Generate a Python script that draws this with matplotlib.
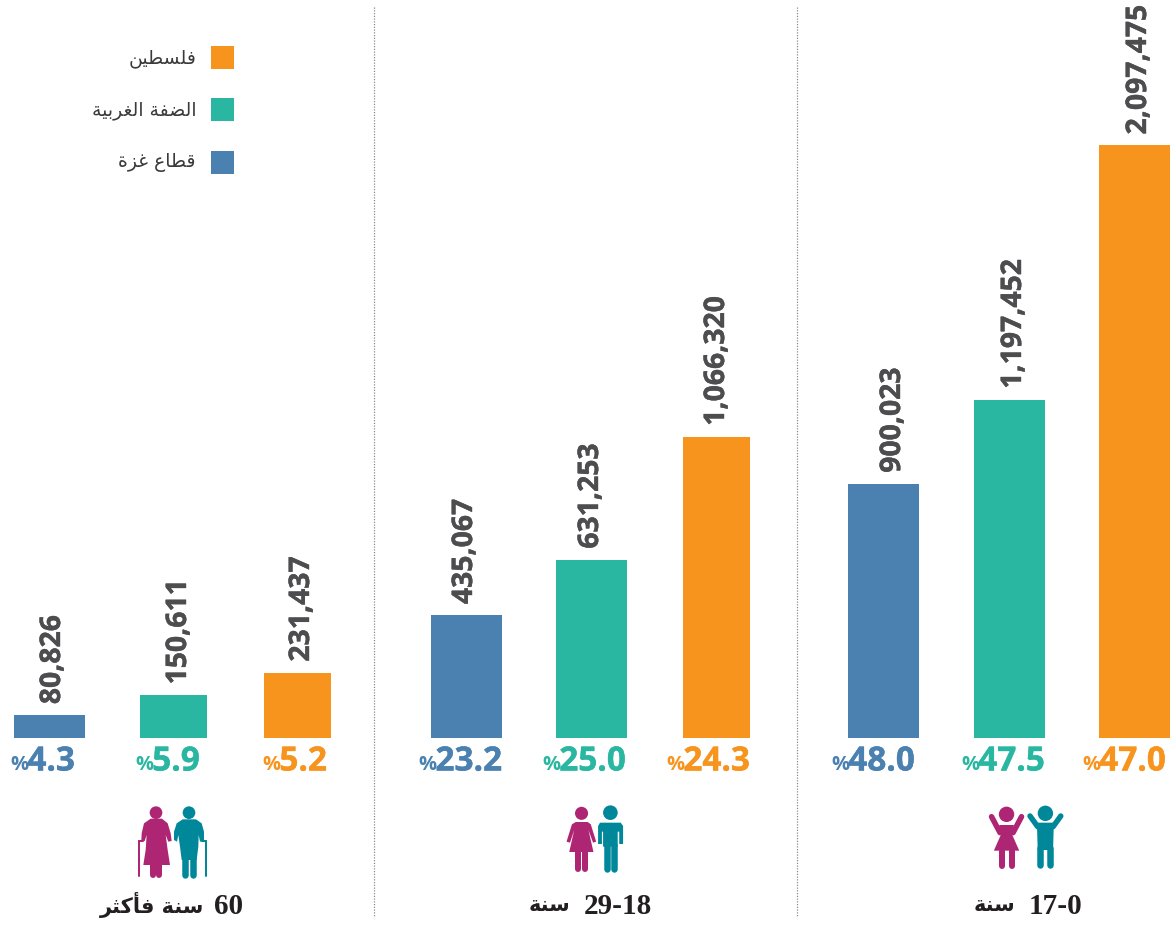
import unicodedata
import matplotlib
matplotlib.use('Agg')
import matplotlib.pyplot as plt
import matplotlib.patheffects as pe
from matplotlib.patches import Circle, Polygon, Rectangle

# Dados
regioes = ['قطاع غزة', 'الضفة الغربية', 'فلسطين']
faixa_60 = [80826, 150611, 231437]
faixa_18 = [435067, 631253, 1066320]
faixa_0 = [900023, 1197452, 2097475]
pct_60 = ['4.3', '5.9', '5.2']
pct_18 = ['23.2', '25.0', '24.3']
pct_0 = ['48.0', '47.5', '47.0']

AZUL, VERDE, LARANJA = '#4A81B0', '#2AB7A2', '#F7941D'
cores = [AZUL, VERDE, LARANJA]
ROSA, PETROLEO = '#AE2573', '#00889A'

# Posicoes das barras em pixels (esquerda, direita)
barras_60 = [(14, 85), (140, 207), (264, 331)]
barras_18 = [(431, 502), (556, 627), (683, 750)]
barras_0 = [(848, 919), (974, 1045), (1099, 1170)]
fim_pct_60 = [75, 200, 327]
fim_pct_18 = [502, 626, 750]
fim_pct_0 = [915, 1045, 1166]
desvio_60 = [3, 5, 4]
desvio_18 = [-2, -1, 0]
desvio_0 = [9, 4, 4]

# Tabela de formas contextuais do arabe
formas = {}
for code in range(0xFE80, 0xFEFD):
    nome = unicodedata.name(chr(code), '')
    base = unicodedata.normalize('NFKC', chr(code))
    if len(base) == 1 and 'FORM' in nome:
        formas.setdefault(base, {})[nome.split()[-2]] = chr(code)


def ar(palavras):
    # matplotlib nao faz shaping: devolve o texto ja em ordem visual
    saida = []
    for palavra in palavras.split(' '):
        letras = []
        for i, c in enumerate(palavra):
            f = formas[c]
            antes = i > 0 and 'INITIAL' in formas[palavra[i - 1]]
            depois = i < len(palavra) - 1 and 'INITIAL' in f
            if antes and depois:
                letras.append(f['MEDIAL'])
            elif antes:
                letras.append(f['FINAL'])
            elif depois:
                letras.append(f['INITIAL'])
            else:
                letras.append(f['ISOLATED'])
        saida.append(''.join(reversed(letras)))
    return ' '.join(reversed(saida))


fig = plt.figure(figsize=(11.71, 9.26), dpi=100, facecolor='white')

# Eixo das barras: base em y=738 px
ax = fig.add_axes([0, 0, 1, 1])
ax.set_xlim(0, 1171)
ax.set_ylim(-188 / 2.825e-4, 738 / 2.825e-4)
ax.axis('off')

# Eixo em pixels para legenda, icones e textos
px = fig.add_axes([0, 0, 1, 1], facecolor='none')
px.set_xlim(0, 1171)
px.set_ylim(926, 0)
px.axis('off')

renderer = fig.canvas.get_renderer()
grupos = [(faixa_60, pct_60, barras_60, fim_pct_60, desvio_60),
          (faixa_18, pct_18, barras_18, fim_pct_18, desvio_18),
          (faixa_0, pct_0, barras_0, fim_pct_0, desvio_0)]

for valores, pcts, barras, fins, desvios in grupos:
    for i in range(3):
        esq, dir_ = barras[i]
        ax.bar((esq + dir_) / 2, valores[i], width=dir_ - esq, color=cores[i])
        r = ax.annotate(f'{valores[i]:,}', xy=((esq + dir_) / 2, valores[i]),
                        xytext=(desvios[i], 11), textcoords='offset pixels',
                        rotation=90, ha='center', va='bottom', color='#4D4D4F',
                        fontsize=20.4, fontweight='bold', family='Open Sans')
        r.set_path_effects([pe.withStroke(linewidth=0.3, foreground='#4D4D4F')])
        t = px.text(fins[i], 762, pcts[i], color=cores[i], fontsize=24,
                    fontweight='bold', family='Open Sans', ha='right', va='center')
        t.set_path_effects([pe.withStroke(linewidth=0.3, foreground=cores[i])])
        caixa = t.get_window_extent(renderer)
        px.text(caixa.x0 + 1, 765, '%', color=cores[i], fontsize=14.5,
                fontweight='bold', family='Open Sans', ha='right', va='center')

# Separadores
for x in [374, 797]:
    px.plot([x, x], [7, 916], color='#8C8C8C', lw=0.9, ls=(0, (1, 1.2)))

# Legenda
for nome, cor, y in zip(regioes[::-1], cores[::-1], [58, 110, 163]):
    px.add_patch(Rectangle((211, y - 12), 23, 23, color=cor, lw=0))
    px.text(196, y, ar(nome), ha='right', va='center', fontsize=13.5,
            color='#3A3A3A', family='DejaVu Sans')

# Rotulos das faixas etarias: numero em serifa e palavra ao lado
rotulos = [(243, '60', ar('سنة فأكثر'), 204),
           (652, '29-18', ar('سنة'), 570),
           (1082, '17-0', ar('سنة'), 1015)]
for x, numero, palavra, x_palavra in rotulos:
    px.text(x, 906, numero, ha='right', va='center', fontsize=21, fontweight='bold',
            color='#231F20', family='Liberation Serif')
    px.text(x_palavra, 905, palavra, ha='right', va='center', fontsize=15, fontweight='bold',
            color='#231F20', family='DejaVu Sans')


# Icones: coordenadas medidas nos recortes ampliados (origem x, origem y, escala x, escala y)
def ponto(p, origem):
    return (origem[0] + p[0] / origem[2], origem[1] + p[1] / origem[3])


def cabeca(c, r, cor, origem):
    px.add_patch(Circle(ponto(c, origem), r / origem[2], color=cor, lw=0))


def corpo(pts, cor, origem):
    px.add_patch(Polygon([ponto(p, origem) for p in pts], closed=True, color=cor, lw=0))


def traco(a, b, larg, cor, origem):
    xa, ya = ponto(a, origem)
    xb, yb = ponto(b, origem)
    px.plot([xa, xb], [ya, yb], color=cor, lw=larg * 0.72, solid_capstyle='round')


o = (0, 740, 3, 3)
cabeca((468, 218), 19, ROSA, o)
corpo([(452, 236), (486, 236), (503, 250), (512, 280), (515, 303), (505, 305), (497, 285),
       (503, 330), (510, 375), (430, 375), (437, 330), (440, 285), (434, 303), (424, 303),
       (425, 280), (432, 250)], ROSA, o)
for x in [458, 478]:
    traco((x, 375), (x, 405), 6, ROSA, o)
traco((418, 303), (418, 407), 2, ROSA, o)
traco((418, 303), (430, 303), 2, ROSA, o)
cabeca((567, 218), 19, PETROLEO, o)
corpo([(548, 238), (588, 238), (605, 250), (612, 275), (612, 303), (600, 305), (596, 285),
       (595, 320), (590, 360), (545, 360), (540, 320), (535, 285), (531, 305), (522, 300),
       (522, 275), (530, 250)], PETROLEO, o)
for x in [556, 578]:
    traco((x, 350), (x, 405), 6.5, PETROLEO, o)
traco((617, 303), (617, 407), 2, PETROLEO, o)
traco((605, 303), (617, 303), 2, PETROLEO, o)

# o segundo recorte saiu reduzido so na largura
o = (500, 790, 2.6, 3)
cabeca((212, 70), 17, ROSA, o)
corpo([(197, 96), (228, 96), (236, 103), (250, 155), (242, 158), (230, 120), (243, 186),
       (180, 186), (193, 120), (182, 158), (173, 155), (187, 103)], ROSA, o)
for x in [203, 221]:
    traco((x, 186), (x, 236), 6, ROSA, o)
cabeca((287, 68), 19, PETROLEO, o)
corpo([(260, 98), (314, 98), (320, 108), (320, 162), (310, 162), (310, 125), (306, 125),
       (306, 170), (268, 170), (268, 125), (265, 125), (265, 162), (255, 162), (255, 108)],
      PETROLEO, o)
for x in [277, 297]:
    traco((x, 165), (x, 236), 6.5, PETROLEO, o)

cabeca((1317, 73), 20, ROSA, o)
traco((1278, 80), (1300, 128), 5.5, ROSA, o)
traco((1356, 80), (1334, 128), 5.5, ROSA, o)
corpo([(1298, 105), (1336, 105), (1332, 135), (1350, 182), (1284, 182), (1302, 135)], ROSA, o)
for x in [1304, 1330]:
    traco((x, 182), (x, 227), 6, ROSA, o)
cabeca((1418, 70), 20, PETROLEO, o)
traco((1378, 78), (1398, 110), 5.5, PETROLEO, o)
traco((1458, 78), (1438, 110), 5.5, PETROLEO, o)
corpo([(1396, 98), (1440, 98), (1438, 180), (1398, 180)], PETROLEO, o)
for x in [1405, 1430]:
    traco((x, 175), (x, 225), 6.5, PETROLEO, o)

px.set_xlim(0, 1171)
px.set_ylim(926, 0)
fig.savefig('out.png', dpi=100)
